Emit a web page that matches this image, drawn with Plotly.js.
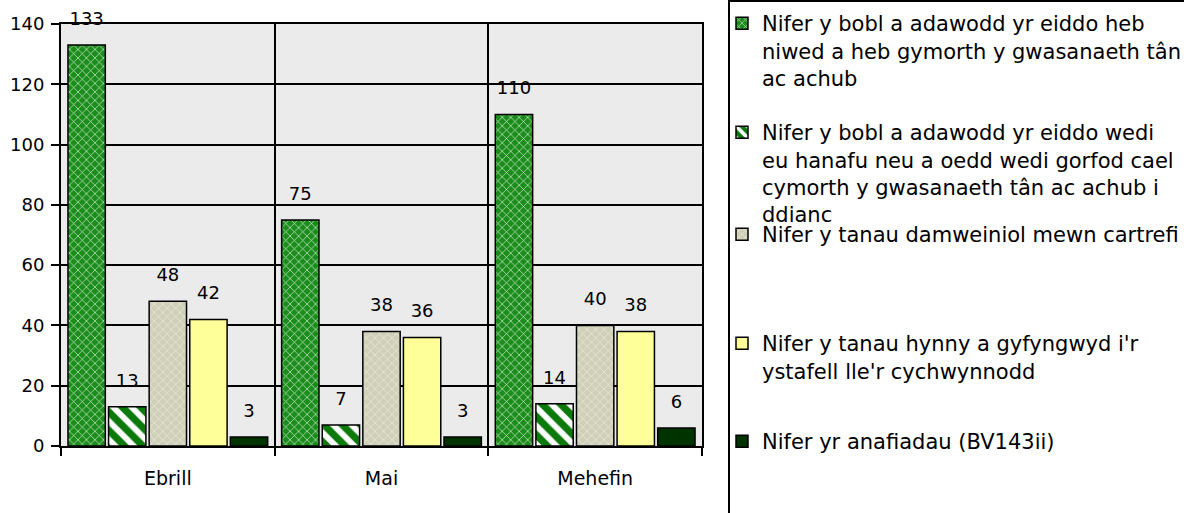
<!DOCTYPE html>
<html>
<head>
<meta charset="utf-8">
<script src="https://cdn.plot.ly/plotly-3.0.1.min.js"></script>
<style>
  html, body { margin: 0; padding: 0; background: white; }
  #chart { width: 1184px; height: 513px; }
</style>
</head>
<body>
<div id="chart"></div>
<script>
const months = ['Ebrill', 'Mai', 'Mehefin']

const seriesNames = [
    'Nifer y bobl a adawodd yr eiddo heb<br>niwed a heb gymorth y gwasanaeth tân<br>ac achub',
    'Nifer y bobl a adawodd yr eiddo wedi<br>eu hanafu neu a oedd wedi gorfod cael<br>cymorth y gwasanaeth tân ac achub i<br>ddianc',
    'Nifer y tanau damweiniol mewn cartrefi',
    "Nifer y tanau hynny a gyfyngwyd i'r<br>ystafell lle'r cychwynnodd",
    'Nifer yr anafiadau (BV143ii)',
]

const leftUnharmed = [133, 75, 110]
const leftInjured = [13, 7, 14]
const accidentalFires = [48, 38, 40]
const confinedFires = [42, 36, 38]
const injuries = [3, 3, 6]

const yTicks = [0, 20, 40, 60, 80, 100, 120, 140]

// legend rows: top edge of each entry, in px from the top of the page
const legendTops = [3, 112, 214, 323, 421]

const W = 1184
const H = 513
const font = 'DejaVu Sans, sans-serif'

const styles = [
    { color: '#1c8c1c', pattern: { shape: 'x', bgcolor: '#1c8c1c', fgcolor: '#cdeccd', size: 6, solidity: 0.22 } },
    { color: '#0b7a0b', pattern: { shape: '\\', bgcolor: '#0b7a0b', fgcolor: '#ffffff', size: 13, solidity: 0.45 } },
    { color: '#d2d2bc', pattern: { shape: 'x', bgcolor: '#d0d0ba', fgcolor: '#f0f0d8', size: 6, solidity: 0.2 } },
    { color: '#ffff99' },
    { color: '#003300' },
]

const values = [leftUnharmed, leftInjured, accidentalFires, confinedFires, injuries]

const traces = values.map((vals, i) => {
    const marker = { color: styles[i].color, line: { color: '#000', width: 1.5 } }
    if (styles[i].pattern) marker.pattern = styles[i].pattern
    return {
        type: 'bar',
        x: months,
        y: vals,
        name: seriesNames[i],
        marker: marker,
        text: vals.map(String),
        // small base font + empty second line lifts the label a bit above the bar
        texttemplate: '<span style="font-size:18px">%{text}</span><br> ',
        textposition: 'outside',
        constraintext: 'none',
        cliponaxis: false,
        textfont: { family: font, size: 11, color: '#000' },
        hoverinfo: 'skip',
        legend: i === 0 ? 'legend' : 'legend' + (i + 1),
    }
})

const plotL = 61, plotR = 702, plotT = 24, plotB = 446
const px2x = (px) => (px - plotL) / (plotR - plotL)
const px2y = (py) => (plotB - py) / (plotB - plotT)

const layout = {
    width: W,
    height: H,
    margin: { l: plotL, r: W - plotR, t: plotT, b: H - plotB },
    paper_bgcolor: 'white',
    plot_bgcolor: '#ebebeb',
    font: { family: font, size: 18, color: '#000' },
    barmode: 'group',
    bargap: 0.05,
    bargroupgap: 0.08,
    xaxis: {
        type: 'category',
        tickson: 'boundaries',
        showgrid: true,
        gridcolor: '#000',
        gridwidth: 2,
        showline: true,
        linecolor: '#000',
        linewidth: 2,
        mirror: true,
        ticks: 'outside',
        ticklen: 8,
        tickwidth: 2,
        tickcolor: '#000',
        ticklabelstandoff: 14,
        tickfont: { family: font, size: 19 },
    },
    yaxis: {
        range: [0, 140],
        tickvals: yTicks,
        showgrid: true,
        gridcolor: '#000',
        gridwidth: 2,
        zeroline: false,
        showline: true,
        linecolor: '#000',
        linewidth: 2,
        mirror: true,
        ticks: 'outside',
        ticklen: 8,
        tickwidth: 2,
        tickcolor: '#000',
        ticklabelstandoff: 3,
        tickfont: { family: font, size: 18 },
    },
    shapes: [
        {
            type: 'rect',
            xref: 'paper',
            yref: 'paper',
            x0: px2x(729),
            x1: px2x(1195),
            y0: px2y(525),
            y1: px2y(1),
            line: { color: '#000', width: 2 },
            fillcolor: 'rgba(0,0,0,0)',
        },
    ],
}

legendTops.forEach((top, i) => {
    const key = i === 0 ? 'legend' : 'legend' + (i + 1)
    layout[key] = {
        xref: 'container',
        yref: 'container',
        x: 722 / W,
        y: 1 - top / H,
        xanchor: 'left',
        yanchor: 'top',
        valign: 'top',
        bgcolor: 'rgba(0,0,0,0)',
        borderwidth: 0,
        font: { family: font, size: 21, color: '#000' },
    }
})
layout.showlegend = true

Plotly.newPlot('chart', traces, layout, { displayModeBar: false, staticPlot: true })
</script>
</body>
</html>
